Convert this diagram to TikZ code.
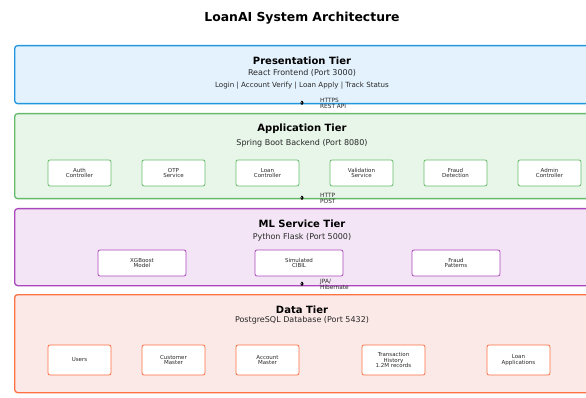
\documentclass[tikz,border=0pt]{standalone}
\usepackage{fontspec}
\setmainfont{DejaVu Sans}
\usetikzlibrary{arrows.meta,positioning}
\definecolor{skyline}{RGB}{33,150,223}
\definecolor{skyfill}{RGB}{227,242,253}
\definecolor{fern}{RGB}{102,187,106}
\definecolor{fernfill}{RGB}{232,245,233}
\definecolor{orchid}{RGB}{171,71,188}
\definecolor{orchidfill}{RGB}{243,229,245}
\definecolor{coral}{RGB}{255,112,67}
\definecolor{coralfill}{RGB}{251,233,231}
\definecolor{ink}{RGB}{40,40,40}
\tikzset{
  >={Stealth[length=2.2pt,width=3.4pt]},
  tier/.style={draw=#1,line width=1.3pt,rounded corners=3pt,minimum width=600pt,
    anchor=north west,inner sep=0pt},
  comp/.style={draw=#1,fill=white,line width=0.8pt,rounded corners=2pt,
    minimum width=63pt,minimum height=26pt,align=center,text=ink,
    font=\fontsize{5.5}{5.7}\selectfont},
  headline/.style={font=\fontsize{10}{11}\selectfont\bfseries,text=black},
  subline/.style={font=\fontsize{8}{9}\selectfont,text=ink},
  proto/.style={font=\fontsize{5.8}{6}\selectfont,text=ink,align=left,anchor=west,inner sep=0pt},
  link/.style={<->,line width=0.6pt,black},
}
\begin{document}
\begin{tikzpicture}[x=1pt,y=-1pt]
  \useasboundingbox (0,0) rectangle (586,398);
  \node[font=\fontsize{12.4}{14}\selectfont\bfseries] (title) at (302,18) {LoanAI System Architecture};

  % tiers
  \node[tier=skyline,fill=skyfill,minimum height=58pt] (pres) at (14,45) {};
  \node[tier=fern,fill=fernfill,minimum height=85pt] (app) at (14,113) {};
  \node[tier=orchid,fill=orchidfill,minimum height=77pt] (ml) at (14,208) {};
  \node[tier=coral,fill=coralfill,minimum height=98pt] (data) at (14,294) {};

  % presentation tier
  \node[headline] (presT) at (302,61) {Presentation Tier};
  \node[subline] (presS) at (302,73) {React Frontend (Port 3000)};
  \node[subline,font=\fontsize{7.1}{8}\selectfont] (presL) at (302,86) {Login | Account Verify | Loan Apply | Track Status};

  % application tier
  \node[headline] (appT) at (302,129) {Application Tier};
  \node[subline] (appS) at (302,143) {Spring Boot Backend (Port 8080)};
  \foreach \name/\txt [count=\i from 0] in {auth/Auth\\Controller,otp/OTP\\Service,loan/Loan\\Controller,valid/Validation\\Service,fraud/Fraud\\Detection,admin/Admin\\Controller}
    \node[comp=fern] (\name) at (79.5+94*\i,173) {\txt};

  % ml tier
  \node[headline] (mlT) at (302,224) {ML Service Tier};
  \node[subline] (mlS) at (302,237) {Python Flask (Port 5000)};
  \foreach \name/\txt [count=\i from 0] in {xgb/XGBoost\\Model,cibil/Simulated\\CIBIL,patt/Fraud\\Patterns}
    \node[comp=orchid,minimum width=88pt] (\name) at (142+157*\i,263) {\txt};

  % data tier
  \node[headline] (dataT) at (302,310) {Data Tier};
  \node[subline] (dataS) at (302,320) {PostgreSQL Database (Port 5432)};
  \foreach \name/\txt/\x in {users/Users/79.5,cust/Customer\\Master/173.5,acct/Account\\Master/267.5,txn/Transaction\\History\\1.2M records/393.5,apps/Loan\\Applications/518.5}
    \node[comp=coral,minimum height=30pt] (\name) at (\x,360) {\txt};

  % links between tiers
  \coordinate (pa1) at (302,100.6);
  \coordinate (pa2) at (302,105);
  \coordinate (am1) at (302,195.6);
  \coordinate (am2) at (302,200);
  \coordinate (md1) at (302,281.6);
  \coordinate (md2) at (302,286);
  \draw[link] (pa1) -- (pa2);
  \draw[link] (am1) -- (am2);
  \draw[link] (md1) -- (md2);
  \node[proto] (paL) at (320,103) {HTTPS\\REST API};
  \node[proto] (amL) at (320,198) {HTTP\\POST};
  \node[proto] (mdL) at (320,284) {JPA/\\Hibernate};
\end{tikzpicture}
\end{document}
